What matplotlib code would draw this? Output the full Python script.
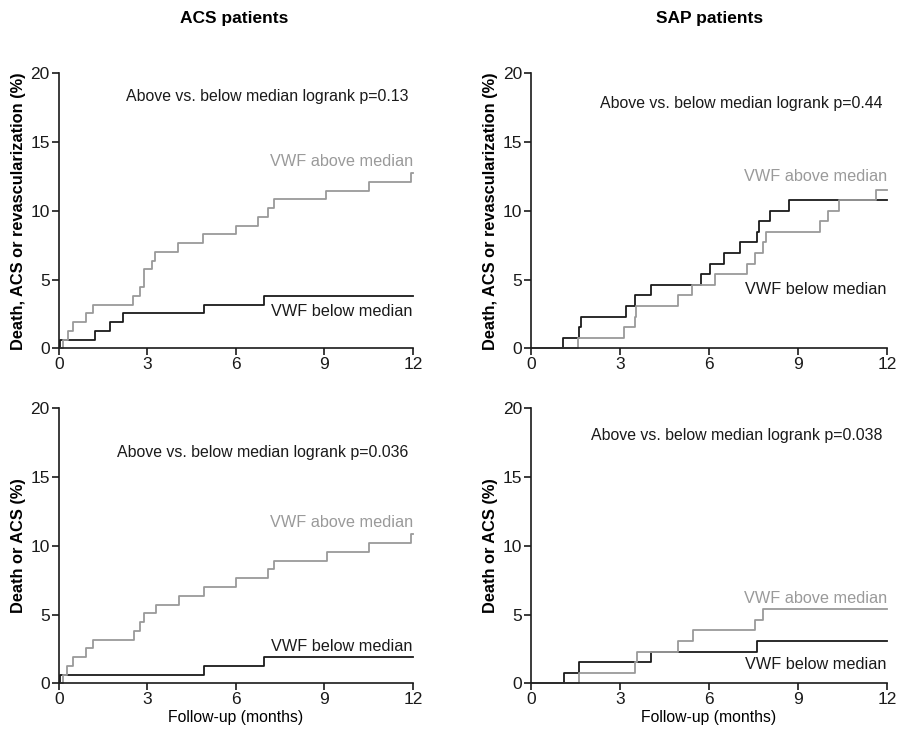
import matplotlib.pyplot as plt

plt.rcParams["font.family"] = ["Liberation Sans", "DejaVu Sans"]

# ---------- Daten ----------
# ACS, Tod/ACS/Revaskularisation
acs_rev_above_t = [0, 0.16, 0.3, 0.47, 0.93, 1.15, 2.53, 2.76, 2.9, 3.15, 3.26, 4.05, 4.9, 6.0, 6.75, 7.1, 7.3, 9.06, 10.5, 11.93]
acs_rev_above_y = [0, 0.64, 1.27, 1.91, 2.55, 3.18, 3.82, 4.46, 5.73, 6.37, 7.0, 7.64, 8.28, 8.92, 9.55, 10.19, 10.83, 11.46, 12.1, 12.74]
acs_rev_below_t = [0, 0.05, 1.23, 1.74, 2.19, 4.93, 6.97]
acs_rev_below_y = [0, 0.64, 1.27, 1.91, 2.55, 3.18, 3.82]

# SAP, Tod/ACS/Revaskularisation
sap_rev_above_t = [0, 1.58, 3.13, 3.5, 3.54, 4.97, 5.44, 6.2, 7.3, 7.56, 7.84, 7.92, 9.73, 10.03, 10.4, 11.64]
sap_rev_above_y = [0, 0.77, 1.54, 2.31, 3.08, 3.85, 4.62, 5.38, 6.15, 6.92, 7.69, 8.46, 9.23, 10.0, 10.77, 11.54]
sap_rev_below_t = [0, 1.09, 1.62, 1.69, 3.19, 3.51, 4.05, 5.73, 6.05, 6.51, 7.05, 7.61, 7.68, 8.06, 8.7]
sap_rev_below_y = [0, 0.77, 1.54, 2.31, 3.08, 3.85, 4.62, 5.38, 6.15, 6.92, 7.69, 8.46, 9.23, 10.0, 10.77]

# ACS, Tod/ACS
acs_above_t = [0, 0.15, 0.28, 0.49, 0.94, 1.15, 2.54, 2.77, 2.9, 3.3, 4.07, 4.92, 6.0, 7.1, 7.3, 9.08, 10.52, 11.95]
acs_above_y = [0, 0.64, 1.27, 1.91, 2.55, 3.18, 3.82, 4.46, 5.1, 5.73, 6.37, 7.0, 7.64, 8.28, 8.92, 9.55, 10.19, 10.83]
acs_below_t = [0, 0.05, 4.93, 6.97]
acs_below_y = [0, 0.64, 1.27, 1.91]

# SAP, Tod/ACS
sap_above_t = [0, 1.61, 3.5, 3.57, 4.96, 5.46, 7.56, 7.82]
sap_above_y = [0, 0.77, 1.54, 2.31, 3.08, 3.85, 4.62, 5.38]
sap_below_t = [0, 1.1, 1.63, 4.06, 7.63]
sap_below_y = [0, 0.77, 1.54, 2.31, 3.08]

p_texts = ["p=0.13", "p=0.44", "p=0.036", "p=0.038"]
ylabels = ["Death, ACS or revascularization (%)", "Death or ACS (%)"]

GRAY = "#9a9a9a"
BLACK = "#1a1a1a"

fig = plt.figure(figsize=(9.01, 7.38), dpi=100)

panels = [
    # (pos, above, below, p, ylabel, p_y, above_y, below_y, xlabel)
    ([0.0652, 0.528, 0.393, 0.373], (acs_rev_above_t, acs_rev_above_y), (acs_rev_below_t, acs_rev_below_y), p_texts[0], ylabels[0], 18.3, 13.6, 2.65, False),
    ([0.5893, 0.528, 0.395, 0.373], (sap_rev_above_t, sap_rev_above_y), (sap_rev_below_t, sap_rev_below_y), p_texts[1], ylabels[0], 17.8, 12.5, 4.3, False),
    ([0.0652, 0.074, 0.393, 0.373], (acs_above_t, acs_above_y), (acs_below_t, acs_below_y), p_texts[2], ylabels[1], 16.8, 11.7, 2.65, True),
    ([0.5893, 0.074, 0.395, 0.373], (sap_above_t, sap_above_y), (sap_below_t, sap_below_y), p_texts[3], ylabels[1], 18.0, 6.2, 1.4, True),
]

for pos, above, below, p, ylab, p_y, a_y, b_y, xl in panels:
    ax = fig.add_axes(pos)
    for (t, y), col in [(below, BLACK), (above, GRAY)]:
        ax.step(list(t) + [12], list(y) + [y[-1]], where="post", color=col, lw=1.3, clip_on=False)
    ax.set_xlim(0, 12)
    ax.set_ylim(0, 20)
    ax.set_xticks([0, 3, 6, 9, 12])
    ax.set_yticks([0, 5, 10, 15, 20])
    ax.spines["top"].set_visible(False)
    ax.spines["right"].set_visible(False)
    for s in ["left", "bottom"]:
        ax.spines[s].set_linewidth(1.2)
        ax.spines[s].set_color(BLACK)
    ax.tick_params(direction="out", length=5, width=1.2, labelsize=12.5, colors=BLACK, pad=1.5)
    ax.set_ylabel(ylab, fontsize=11.8, fontweight="bold", labelpad=3)
    if xl:
        ax.set_xlabel("Follow-up (months)", fontsize=11.3, labelpad=2)
    ax.text(11.85, p_y, "Above vs. below median logrank " + p, ha="right", va="center", fontsize=11.4, color=BLACK)
    ax.text(12, a_y, "VWF above median", ha="right", va="center", fontsize=11.7, color=GRAY)
    ax.text(12, b_y, "VWF below median", ha="right", va="center", fontsize=11.7, color=BLACK)

fig.text(0.26, 0.975, "ACS patients", ha="center", va="center", fontsize=12.5, fontweight="bold")
fig.text(0.787, 0.975, "SAP patients", ha="center", va="center", fontsize=12.5, fontweight="bold")

fig.savefig("out.png", dpi=100)
